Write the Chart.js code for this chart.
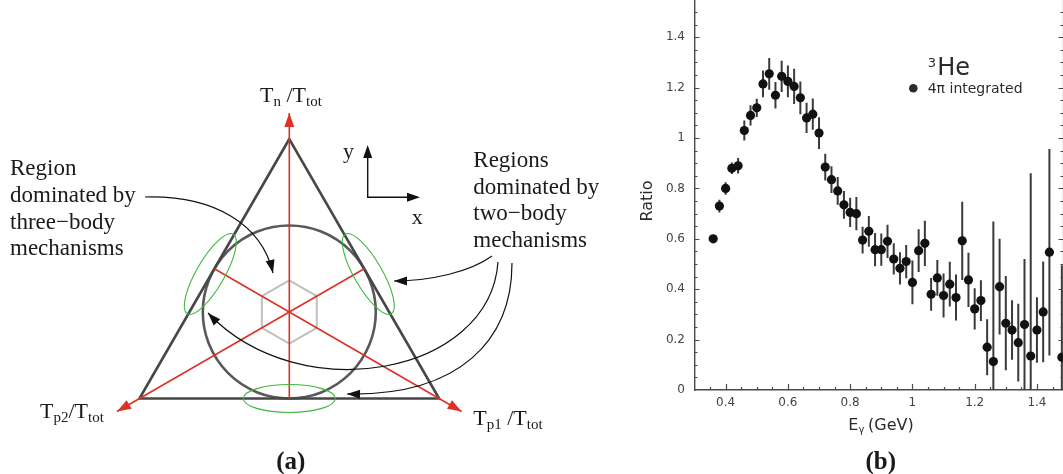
<!DOCTYPE html>
<html>
<head>
<meta charset="utf-8">
<script src="https://cdn.jsdelivr.net/npm/chart.js@4.4.1/dist/chart.umd.min.js"></script>
<style>
  html, body { margin: 0; padding: 0; background: #fff; overflow: hidden; }
  #wrap { position: relative; width: 1063px; height: 474px; overflow: hidden; }
  #left { position: absolute; left: 0; top: 0; width: 640px; height: 474px; }
  #right { position: absolute; left: 560px; top: 0; width: 504px; height: 474px; }
</style>
</head>
<body>
<div id="wrap">
  <div id="left"><canvas id="dalitz"></canvas></div>
  <div id="right"><canvas id="ratio"></canvas></div>
</div>
<script>
// (b) 3He ratio, 4pi integrated
const energy = [0.36, 0.38, 0.40, 0.42, 0.44, 0.46, 0.48, 0.50, 0.52, 0.54,
                0.56, 0.58, 0.60, 0.62, 0.64, 0.66, 0.68, 0.70, 0.72, 0.74,
                0.76, 0.78, 0.80, 0.82, 0.84, 0.86, 0.88, 0.90, 0.92, 0.94,
                0.96, 0.98, 1.00, 1.02, 1.04, 1.06, 1.08, 1.10, 1.12, 1.14,
                1.16, 1.18, 1.20, 1.22, 1.24, 1.26, 1.28, 1.30, 1.32, 1.34,
                1.36, 1.38, 1.40, 1.42, 1.44, 1.48];
const ratio = [0.60, 0.73, 0.80, 0.88, 0.89, 1.03, 1.09, 1.12, 1.215, 1.255,
               1.17, 1.245, 1.225, 1.205, 1.16, 1.08, 1.095, 1.02, 0.885, 0.835,
               0.79, 0.735, 0.705, 0.70, 0.595, 0.63, 0.557, 0.557, 0.59, 0.52,
               0.483, 0.51, 0.427, 0.553, 0.582, 0.38, 0.445, 0.375, 0.42, 0.367,
               0.592, 0.437, 0.322, 0.355, 0.17, 0.113, 0.41, 0.265, 0.238, 0.188,
               0.26, 0.135, 0.238, 0.31, 0.547, 0.13];
const ratioErr = [0.01, 0.025, 0.025, 0.023, 0.031, 0.04, 0.04, 0.036, 0.053, 0.063,
                  0.053, 0.062, 0.063, 0.07, 0.065, 0.06, 0.062, 0.063, 0.053, 0.053,
                  0.055, 0.055, 0.058, 0.066, 0.053, 0.061, 0.066, 0.064, 0.066, 0.062,
                  0.064, 0.066, 0.087, 0.085, 0.09, 0.065, 0.071, 0.087, 0.089, 0.091,
                  0.155, 0.108, 0.082, 0.081, 0.111, 0.556, 0.19, 0.187, 0.118, 0.154,
                  0.26, 0.725, 0.13, 0.2, 0.41, 0.365];
const xTicks = [0.4, 0.6, 0.8, 1, 1.2, 1.4];
const yTicks = [0, 0.2, 0.4, 0.6, 0.8, 1, 1.2, 1.4];

// (a) Dalitz-type triangle, units = px, origin at the centre
const inR = 86.5;                 // inscribed circle radius
const axisDeg = [90, 210, 330];   // T_n, T_p2, T_p1 directions
const hexR = 31.7;

const dir = d => [Math.cos(d * Math.PI / 180), Math.sin(d * Math.PI / 180)];
const triangle = [0, 1, 2, 0, 1].map(i => {
  const [c, s] = dir(axisDeg[i]);
  return { x: 2 * inR * c, y: 2 * inR * s };
});
const medians = axisDeg.map(d => {
  const [c, s] = dir(d);
  return [{ x: -inR * c, y: -inR * s }, { x: 2.3 * inR * c, y: 2.3 * inR * s }];
});
const hexagon = [0, 1, 2, 3, 4, 5, 0].map(k => {
  const [c, s] = dir(90 + 60 * k);
  return { x: hexR * c, y: hexR * s };
});
const ellipses = [
  { cx: 0, cy: -inR, rx: 46, ry: 14, rot: 0 },
  { cx: -79, cy: 38, rx: 46, ry: 14, rot: -60 },
  { cx: 79, cy: 38, rx: 46, ry: 14, rot: 60 }
];
// bezier arrows: start, ctrl1, ctrl2, tip
const curvedArrows = [
  [[-144.3, 115], [-74.3, 117], [-27.3, 87], [-16.3, 39]],
  [[202.7, 56], [180.7, 40], [140.7, 31], [104.7, 31]],
  [[208.7, 50], [200.7, -63], [10.7, -98], [-81.3, -1]],
  [[222.7, 49], [222.7, -28], [170.7, -84], [57.7, -82]]
];
const leftNote = ['Region', 'dominated by', 'three\u2212body', 'mechanisms'];
const rightNote = ['Regions', 'dominated by', 'two\u2212body', 'mechanisms'];

const SERIF = '"Liberation Serif", "Times New Roman", serif';
const SANS = '"DejaVu Sans", sans-serif';
const RED = '#dc3226';

function arrowHead(ctx, tx, ty, fx, fy, len, half, color) {
  let dx = tx - fx, dy = ty - fy;
  const n = Math.hypot(dx, dy) || 1;
  dx /= n; dy /= n;
  const bx = tx - dx * len, by = ty - dy * len;
  ctx.save();
  ctx.fillStyle = color;
  ctx.beginPath();
  ctx.moveTo(tx, ty);
  ctx.lineTo(bx - dy * half, by + dx * half);
  ctx.lineTo(bx + dy * half, by - dx * half);
  ctx.closePath();
  ctx.fill();
  ctx.restore();
}

// draws [text, size, dy] runs one after the other
function runs(ctx, x, y, parts, family) {
  parts.forEach(([t, size, dy]) => {
    ctx.font = size + 'px ' + family;
    ctx.fillText(t, x, y + dy);
    x += ctx.measureText(t).width;
  });
}

const dalitzDecor = {
  id: 'dalitzDecor',
  beforeDatasetsDraw(chart) {
    const { ctx, scales: { x, y } } = chart;
    const k = x.getPixelForValue(1) - x.getPixelForValue(0);
    ctx.save();
    ctx.strokeStyle = '#595959';
    ctx.lineWidth = 2.6;
    ctx.beginPath();
    ctx.arc(x.getPixelForValue(0), y.getPixelForValue(0), inR * k, 0, 2 * Math.PI);
    ctx.stroke();
    ctx.restore();
  },
  afterDatasetsDraw(chart) {
    const { ctx, scales: { x, y } } = chart;
    const k = x.getPixelForValue(1) - x.getPixelForValue(0);
    const P = (a, b) => [x.getPixelForValue(a), y.getPixelForValue(b)];
    ctx.save();

    // red arrow heads at the ends of the axes
    medians.forEach(m => {
      const [tx, ty] = P(m[1].x, m[1].y);
      const [fx, fy] = P(m[0].x, m[0].y);
      arrowHead(ctx, tx, ty, fx, fy, 14, 5, RED);
    });

    // green ellipses
    ctx.strokeStyle = '#3cb83c';
    ctx.lineWidth = 1.1;
    ellipses.forEach(e => {
      const [cx, cy] = P(e.cx, e.cy);
      ctx.beginPath();
      ctx.ellipse(cx, cy, e.rx * k, e.ry * k, e.rot * Math.PI / 180, 0, 2 * Math.PI);
      ctx.stroke();
    });

    // black curved arrows
    ctx.strokeStyle = '#111';
    ctx.lineWidth = 1.2;
    curvedArrows.forEach(a => {
      const p = a.map(q => P(q[0], q[1]));
      ctx.beginPath();
      ctx.moveTo(p[0][0], p[0][1]);
      ctx.bezierCurveTo(p[1][0], p[1][1], p[2][0], p[2][1], p[3][0], p[3][1]);
      ctx.stroke();
      arrowHead(ctx, p[3][0], p[3][1], p[2][0], p[2][1], 13, 4.5, '#111');
    });

    // small x / y frame
    const [ox, oy] = P(78.4, 114.7);
    const [ux, uy] = P(78.4, 167);
    const [rx, ry] = P(130.7, 114.7);
    ctx.lineWidth = 1.4;
    ctx.beginPath();
    ctx.moveTo(ux, uy + 8); ctx.lineTo(ox, oy); ctx.lineTo(rx - 8, ry);
    ctx.stroke();
    arrowHead(ctx, ux, uy, ox, oy, 13, 4.5, '#111');
    arrowHead(ctx, rx, ry, ox, oy, 13, 4.5, '#111');

    // texts
    ctx.fillStyle = '#1a1a1a';
    ctx.textBaseline = 'alphabetic';
    ctx.textAlign = 'left';
    ctx.font = '22px ' + SERIF;
    ctx.fillText('y', ...P(53.7, 154));
    ctx.fillText('x', ...P(122.4, 88));

    ctx.font = '23px ' + SERIF;
    leftNote.forEach((t, i) => ctx.fillText(t, ...P(-279.3, 137 - 26.8 * i)));
    rightNote.forEach((t, i) => ctx.fillText(t, ...P(184, 145 - 26.5 * i)));

    let [lx, ly] = P(-29.3, 210.3);
    runs(ctx, lx, ly, [['T', 22, 0], ['n', 15, 4], [' /T', 22, 0], ['tot', 15, 4]], SERIF);
    [lx, ly] = P(-249.3, -105.7);
    runs(ctx, lx, ly, [['T', 22, 0], ['p2', 15, 4], ['/T', 22, 0], ['tot', 15, 4]], SERIF);
    [lx, ly] = P(184, -113);
    runs(ctx, lx, ly, [['T', 22, 0], ['p1', 15, 4], [' /T', 22, 0], ['tot', 15, 4]], SERIF);

    ctx.font = 'bold 25px ' + SERIF;
    ctx.textAlign = 'center';
    ctx.fillText('(a)', ...P(1.5, -157));
    ctx.restore();
  }
};

const lineSet = (data, color, width, order) => ({
  data, showLine: true, pointRadius: 0, borderColor: color, borderWidth: width,
  borderJoinStyle: 'miter', order
});

new Chart(document.getElementById('dalitz'), {
  type: 'scatter',
  data: {
    datasets: [
      lineSet(medians[0], RED, 1.6, 1),
      lineSet(medians[1], RED, 1.6, 1),
      lineSet(medians[2], RED, 1.6, 1),
      lineSet(triangle, '#474747', 2.6, 3),
      lineSet(hexagon, '#c0c0c0', 2, 4)
    ]
  },
  options: {
    responsive: true,
    maintainAspectRatio: false,
    animation: false,
    events: [],
    layout: { padding: 0, autoPadding: false },
    plugins: { legend: { display: false }, tooltip: { enabled: false } },
    scales: {
      x: { type: 'linear', display: false, min: -289.3, max: 350.7 },
      y: { type: 'linear', display: false, min: -162, max: 312 }
    }
  },
  plugins: [dalitzDecor]
});

// Plugin barre d'errore
const errorBars = {
  id: 'errorBars',
  beforeDatasetsDraw(chart) {
    const { ctx, chartArea: a, scales: { x, y } } = chart;
    ctx.save();
    ctx.beginPath();
    ctx.rect(a.left, a.top, a.right - a.left, a.bottom - a.top);
    ctx.clip();
    ctx.strokeStyle = '#3a3a3a';
    ctx.lineWidth = 2;
    energy.forEach((e, i) => {
      const px = x.getPixelForValue(e);
      ctx.beginPath();
      ctx.moveTo(px, y.getPixelForValue(ratio[i] - ratioErr[i]));
      ctx.lineTo(px, y.getPixelForValue(ratio[i] + ratioErr[i]));
      ctx.stroke();
    });
    ctx.restore();
  }
};

// Plugin tacche interne + testi
const paw = {
  id: 'paw',
  afterDraw(chart) {
    const { ctx, chartArea: a, scales: { x, y } } = chart;
    ctx.save();
    ctx.strokeStyle = '#4a4a4a';
    ctx.lineWidth = 1.2;
    ctx.beginPath();
    for (let k = 7; k * 0.05 <= x.max + 1e-9; k++) {
      const px = Math.round(x.getPixelForValue(k * 0.05)) + 0.5;
      const len = k % 4 === 0 ? 6 : 3;
      ctx.moveTo(px, a.bottom); ctx.lineTo(px, a.bottom - len);
    }
    for (let k = 1; k * 0.05 <= y.max + 1e-9; k++) {
      const py = Math.round(y.getPixelForValue(k * 0.05)) + 0.5;
      const len = k % 4 === 0 ? 5 : 3;
      ctx.moveTo(a.left, py); ctx.lineTo(a.left + len, py);
      ctx.moveTo(a.right, py); ctx.lineTo(a.right - len, py);
    }
    ctx.moveTo(a.right, a.top); ctx.lineTo(a.right, a.bottom);
    ctx.stroke();

    ctx.fillStyle = '#2a2a2a';
    ctx.textAlign = 'center';
    ctx.textBaseline = 'middle';
    ctx.font = '16px ' + SANS;
    ctx.save();
    ctx.translate(88, 201);
    ctx.rotate(-Math.PI / 2);
    ctx.fillText('Ratio', 0, 0);
    ctx.restore();

    ctx.textAlign = 'left';
    ctx.textBaseline = 'alphabetic';
    runs(ctx, 288.3, 430, [['E', 16, 0], ['\u03b3', 10, 3]], SANS);
    ctx.font = '16px ' + SANS;
    ctx.fillText('(GeV)', 308, 430);

    runs(ctx, 367.7, 66.7, [['3', 13, 0]], SANS);
    runs(ctx, 377.3, 75, [['He', 24, 0]], SANS);
    ctx.beginPath();
    ctx.arc(353.3, 88.3, 4.3, 0, 2 * Math.PI);
    ctx.fill();
    ctx.font = '14px ' + SANS;
    ctx.fillText('4\u03c0 integrated', 367.7, 92.7);

    ctx.fillStyle = '#1a1a1a';
    ctx.textAlign = 'center';
    ctx.font = 'bold 25px ' + SERIF;
    ctx.fillText('(b)', 320.8, 469);
    ctx.restore();
  }
};

const tickFont = { family: 'DejaVu Sans', size: 12 };
const noPad = s => { s.paddingTop = 0; s.paddingBottom = 0; s.paddingLeft = 0; s.paddingRight = 0; };

new Chart(document.getElementById('ratio'), {
  type: 'scatter',
  data: {
    datasets: [{
      data: energy.map((e, i) => ({ x: e, y: ratio[i] })),
      pointRadius: 4.6,
      pointBackgroundColor: '#111',
      pointBorderWidth: 0
    }]
  },
  options: {
    responsive: true,
    maintainAspectRatio: false,
    animation: false,
    events: [],
    layout: { padding: { top: 0, right: 0.5, bottom: 0, left: 0 }, autoPadding: false },
    plugins: { legend: { display: false }, tooltip: { enabled: false } },
    scales: {
      x: {
        type: 'linear', min: 0.3, max: 1.4853,
        afterBuildTicks: s => { s.ticks = xTicks.map(v => ({ value: v })); },
        afterFit: s => { s.height = 84; noPad(s); },
        grid: { display: false, drawTicks: false },
        border: { display: true, color: '#4a4a4a', width: 1.4 },
        ticks: { padding: 6, color: '#444', font: tickFont, maxRotation: 0, autoSkip: false,
                 callback: v => String(v) }
      },
      y: {
        type: 'linear', min: 0, max: 1.548,
        afterBuildTicks: s => { s.ticks = yTicks.map(v => ({ value: v })); },
        afterFit: s => { s.width = 134.5; noPad(s); },
        grid: { display: false, drawTicks: false },
        border: { display: true, color: '#4a4a4a', width: 1.4 },
        ticks: { padding: 9.5, color: '#444', font: tickFont, autoSkip: false,
                 callback: v => String(v) }
      }
    }
  },
  plugins: [errorBars, paw]
});
</script>
</body>
</html>
